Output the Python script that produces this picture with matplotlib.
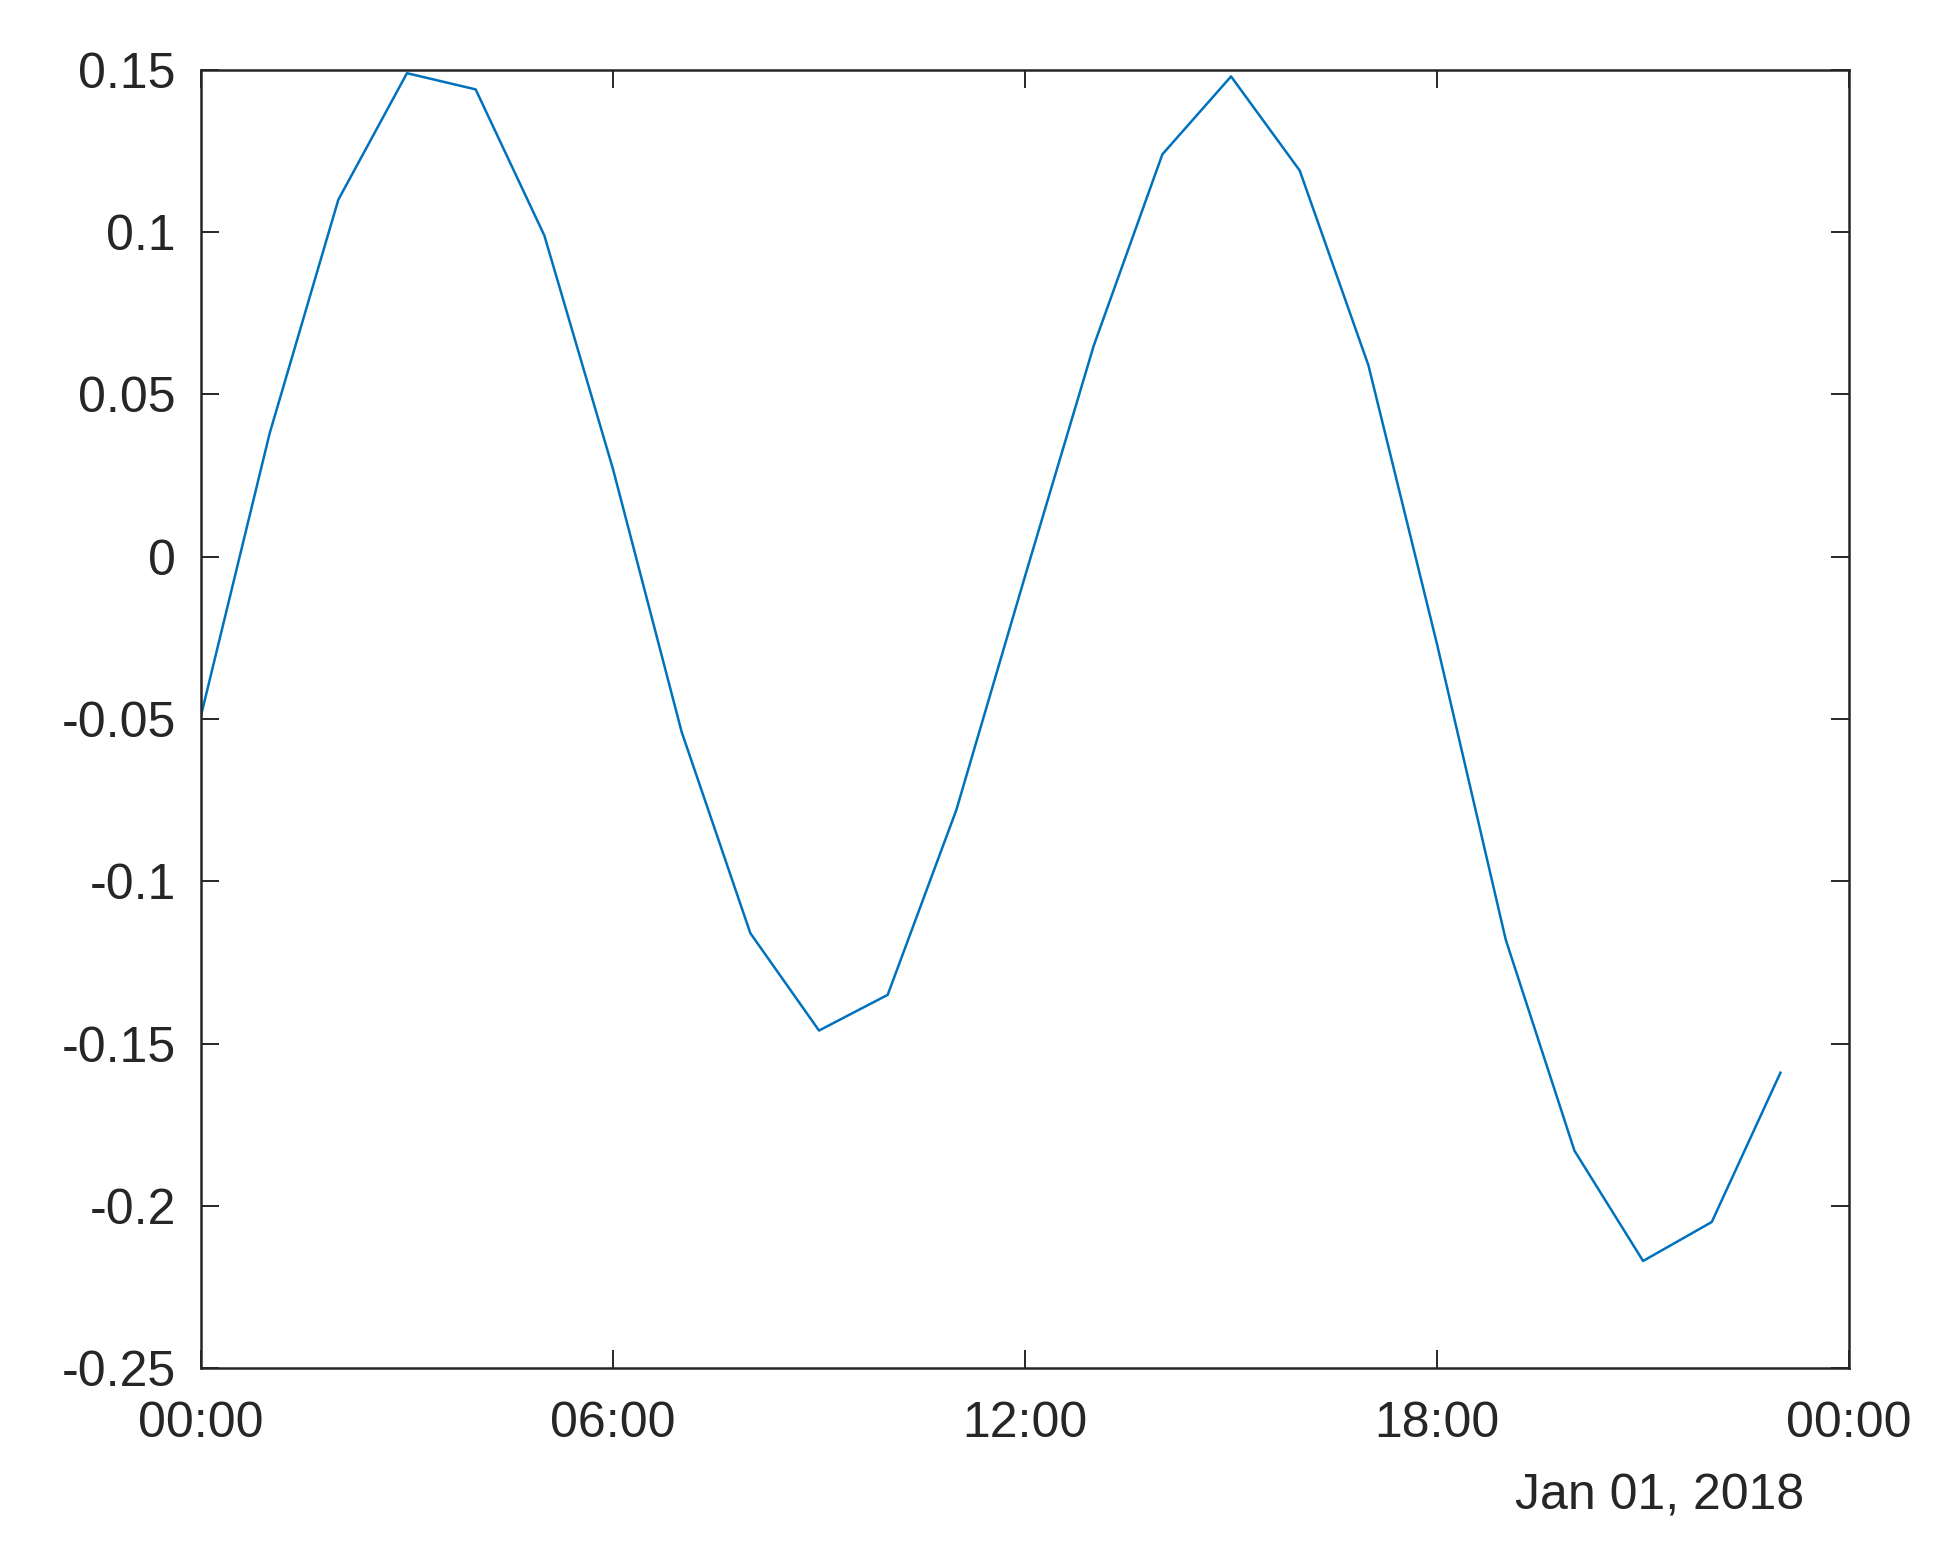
import matplotlib
matplotlib.use("Agg")
import matplotlib.pyplot as plt
import matplotlib.dates as mdates
import pandas as pd

# hourly samples for Jan 01, 2018 (00:00 .. 23:00)
start_time = "2018-01-01 00:00"
end_time = "2018-01-02 00:00"
values = [
    -0.049, 0.038, 0.110, 0.149, 0.144, 0.099,
    0.027, -0.054, -0.116, -0.146, -0.135, -0.078,
    -0.006, 0.065, 0.124, 0.148, 0.119, 0.059,
    -0.027, -0.118, -0.183, -0.217, -0.205, -0.159,
]
y_ticks = [-0.25, -0.2, -0.15, -0.1, -0.05, 0, 0.05, 0.1, 0.15]
y_tick_labels = ["-0.25", "-0.2", "-0.15", "-0.1", "-0.05", "0", "0.05", "0.1", "0.15"]
date_label = "Jan 01, 2018"

times = pd.date_range(start_time, periods=len(values), freq="h")

plt.rcParams["font.family"] = ["Liberation Sans", "DejaVu Sans"]
text_color = "#262626"

fig = plt.figure(figsize=(9.765, 7.805), dpi=200)
ax = fig.add_axes([0.1029, 0.1236, 0.8439, 0.8316])

ax.plot(times, values, color="#0072BD", linewidth=0.9)

# axis limits and ticks (MATLAB look: box on, ticks inside)
ax.set_xlim(pd.Timestamp(start_time), pd.Timestamp(end_time))
ax.set_ylim(-0.25, 0.15)
ax.xaxis.set_major_locator(mdates.HourLocator(byhour=[0, 6, 12, 18]))
ax.xaxis.set_major_formatter(mdates.DateFormatter("%H:%M"))
ax.set_yticks(y_ticks)
ax.set_yticklabels(y_tick_labels)

ax.tick_params(axis="both", which="major", direction="in", length=6.5, width=0.7,
               top=True, right=True, labelsize=18, labelcolor=text_color,
               color=text_color)
ax.tick_params(axis="y", pad=9)
ax.tick_params(axis="x", pad=12)
for spine in ax.spines.values():
    spine.set_color(text_color)
    spine.set_linewidth(0.9)

# date shown under the last tick label
fig.text(0.9237, 0.0327, date_label, ha="right", va="baseline",
         fontsize=18, color=text_color)

fig.savefig("out.png", dpi=200, facecolor="white")
